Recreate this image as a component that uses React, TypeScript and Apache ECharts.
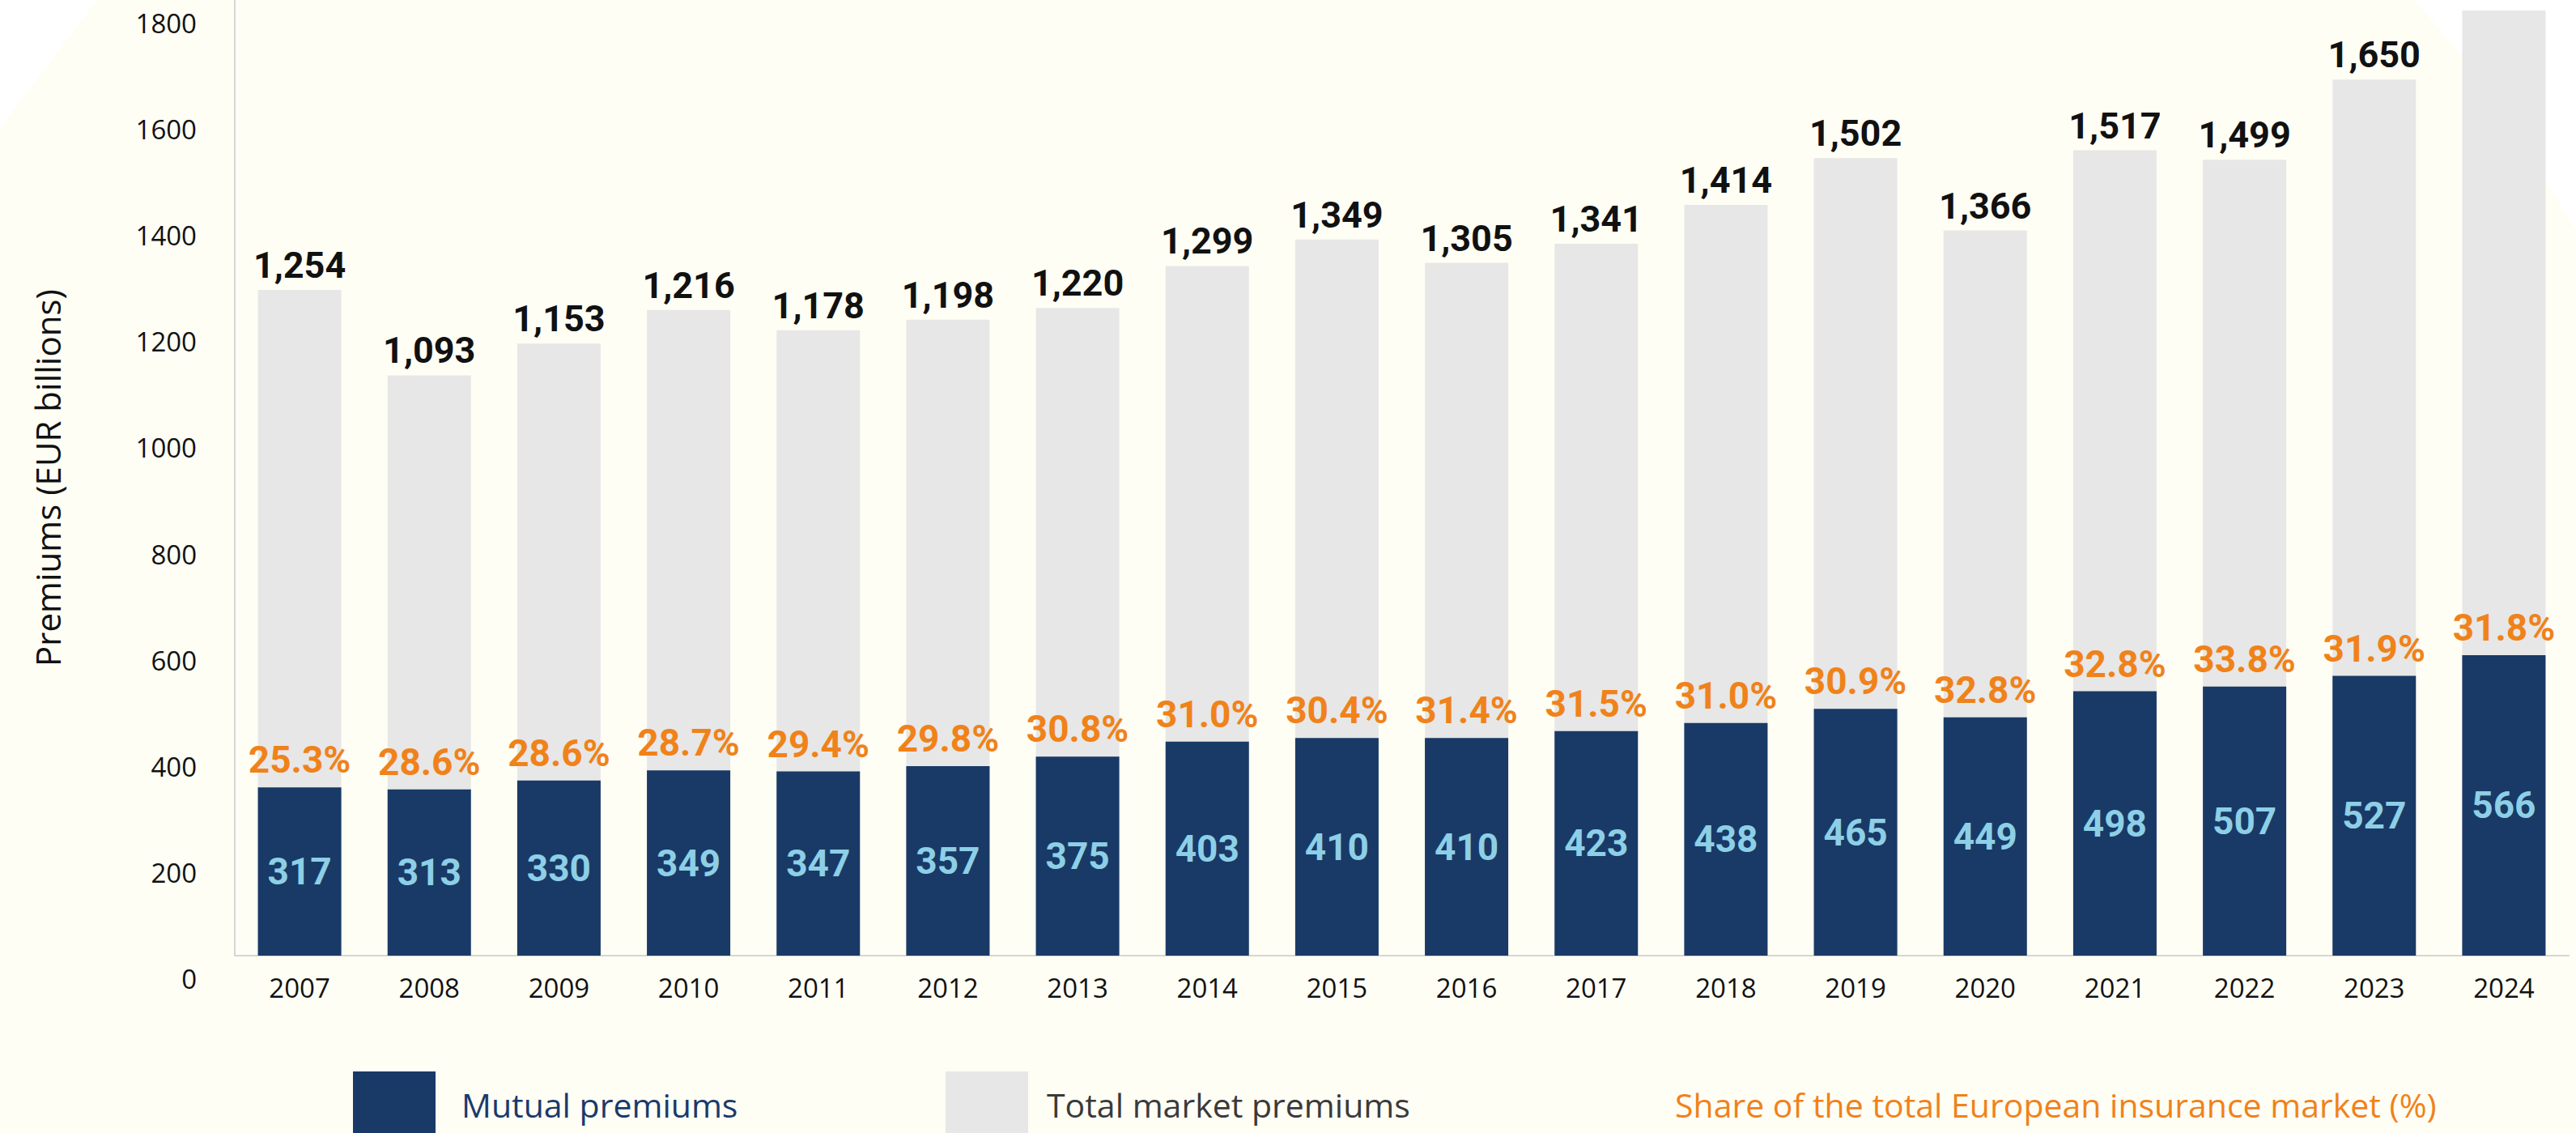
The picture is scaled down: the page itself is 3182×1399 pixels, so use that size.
import React, { useEffect, useRef } from "react";
import * as echarts from "echarts";

// ---- data ----
const years = [
  "2007", "2008", "2009", "2010", "2011", "2012", "2013", "2014", "2015",
  "2016", "2017", "2018", "2019", "2020", "2021", "2022", "2023", "2024",
];
const totalPremiums = [
  1254, 1093, 1153, 1216, 1178, 1198, 1220, 1299, 1349,
  1305, 1341, 1414, 1502, 1366, 1517, 1499, 1650, 1780,
];
const mutualPremiums = [
  317, 313, 330, 349, 347, 357, 375, 403, 410,
  410, 423, 438, 465, 449, 498, 507, 527, 566,
];
const marketShare = [
  25.3, 28.6, 28.6, 28.7, 29.4, 29.8, 30.8, 31.0, 30.4,
  31.4, 31.5, 31.0, 30.9, 32.8, 32.8, 33.8, 31.9, 31.8,
];
// the 2024 total label lies above the visible picture
const hiddenTotalLabelYears = ["2024"];
const yMin = 0;
const yMax = 1800;
const yInterval = 200;

const seriesNames = {
  mutual: "Mutual premiums",
  total: "Total market premiums",
  share: "Share of the total European insurance market (%)",
};

// ---- styles ----
const NAVY = "#193A66";
const GREY_BAR = "#E7E7E7";
const ORANGE = "#F0821A";
const LIGHT_BLUE = "#8DCFE6";
const CREAM = "#FEFEF5";
const AXIS = "#D6D6D6";
const SANS = "'Open Sans', 'Noto Sans', sans-serif";
const BOLD = "Roboto, 'Noto Sans', sans-serif";

const fmtThousands = (v: number) =>
  String(v).replace(/\B(?=(\d{3})+(?!\d))/g, ",");

export default function App() {
  const ref = useRef<HTMLDivElement>(null);

  useEffect(() => {
    if (!ref.current) return;
    const chart = echarts.init(ref.current, null, { renderer: "svg" });

    const option: any = {
      animation: false,
      backgroundColor: "#FFFFFF",
      textStyle: { fontFamily: SANS },
      grid: { left: 290, right: 9, top: 0, bottom: 219, containLabel: false },
      xAxis: {
        type: "category",
        data: years,
        axisLine: { show: true, lineStyle: { color: AXIS, width: 2 } },
        axisTick: { show: false },
        axisLabel: {
          color: "#111111",
          fontSize: 33,
          fontFamily: SANS,
          margin: 23,
        },
      },
      yAxis: {
        type: "value",
        min: yMin,
        max: yMax,
        interval: yInterval,
        name: "Premiums (EUR billions)",
        nameLocation: "middle",
        nameGap: 211,
        nameTextStyle: { fontSize: 42, color: "#111111", fontFamily: SANS },
        axisLine: { show: true, lineStyle: { color: AXIS, width: 2 } },
        axisTick: { show: false },
        splitLine: { show: false },
        axisLabel: {
          color: "#111111",
          fontSize: 33,
          fontFamily: SANS,
          margin: 47,
          verticalAlign: "top",
          padding: [12, 0, 0, 0],
          formatter: (v: number) => String(v),
        },
      },
      series: [
        {
          name: seriesNames.total,
          type: "bar",
          silent: true,
          barWidth: 103,
          barGap: "-100%",
          itemStyle: { color: GREY_BAR },
          data: totalPremiums.map((v, i) => ({
            value: v,
            label: { show: !hiddenTotalLabelYears.includes(years[i]) },
          })),
          label: {
            show: true,
            position: "top",
            distance: 8,
            color: "#111111",
            fontSize: 45,
            fontWeight: "bold",
            fontFamily: BOLD,
            formatter: (p: any) => fmtThousands(p.value),
          },
        },
        {
          name: seriesNames.mutual,
          type: "bar",
          silent: true,
          barWidth: 103,
          barGap: "-100%",
          itemStyle: { color: NAVY },
          data: mutualPremiums,
          label: {
            show: true,
            position: "inside",
            color: LIGHT_BLUE,
            fontSize: 46,
            fontWeight: "bold",
            fontFamily: BOLD,
          },
        },
        {
          name: seriesNames.share,
          type: "bar",
          silent: true,
          barWidth: 103,
          barGap: "-100%",
          itemStyle: { color: "rgba(0,0,0,0)" },
          data: mutualPremiums,
          label: {
            show: true,
            position: "top",
            distance: 11,
            color: ORANGE,
            fontSize: 46,
            fontWeight: "bold",
            fontFamily: BOLD,
            formatter: (p: any) => marketShare[p.dataIndex].toFixed(1) + "%",
          },
        },
      ],
      graphic: [
        {
          type: "polygon",
          z: -100,
          silent: true,
          shape: {
            points: [
              [120, 0], [2983, 0], [3040, 67], [3144, 223], [3182, 283],
              [3182, 1399], [0, 1399], [0, 158],
            ],
          },
          style: { fill: CREAM },
        },
        {
          type: "rect",
          z: 10,
          silent: true,
          shape: { x: 436, y: 1323, width: 102, height: 102 },
          style: { fill: NAVY },
        },
        {
          type: "text",
          z: 10,
          silent: true,
          x: 570,
          y: 1364,
          style: {
            text: seriesNames.mutual,
            fill: "#1A3A6B",
            fontSize: 41,
            fontFamily: SANS,
            verticalAlign: "middle",
            align: "left",
          },
        },
        {
          type: "rect",
          z: 10,
          silent: true,
          shape: { x: 1168, y: 1323, width: 102, height: 102 },
          style: { fill: GREY_BAR },
        },
        {
          type: "text",
          z: 10,
          silent: true,
          x: 1293,
          y: 1364,
          style: {
            text: seriesNames.total,
            fill: "#3A3A3A",
            fontSize: 41,
            fontFamily: SANS,
            verticalAlign: "middle",
            align: "left",
          },
        },
        {
          type: "text",
          z: 10,
          silent: true,
          x: 2069,
          y: 1364,
          style: {
            text: seriesNames.share,
            fill: ORANGE,
            fontSize: 41,
            fontFamily: SANS,
            verticalAlign: "middle",
            align: "left",
          },
        },
      ],
    };

    chart.setOption(option);
    return () => chart.dispose();
  }, []);

  return (
    <div
      ref={ref}
      style={{
        position: "fixed",
        left: 0,
        top: 0,
        width: "3182px",
        height: "1399px",
      }}
    />
  );
}
